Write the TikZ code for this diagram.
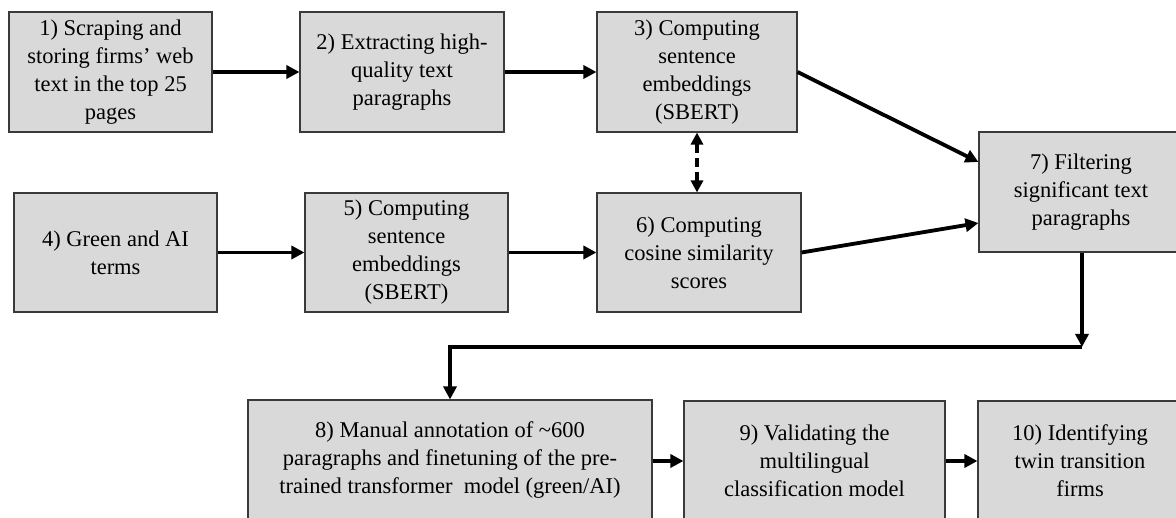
\documentclass[tikz,border=0pt]{standalone}
\usepackage{fontspec}
\setmainfont{Liberation Serif}
\usetikzlibrary{arrows.meta}
\definecolor{boxfill}{HTML}{D9D9D9}
\definecolor{boxline}{HTML}{3A3A3A}
\tikzset{
  stepbox/.style={draw=boxline, line width=1.1pt, fill=boxfill, align=center,
    inner sep=0pt, font=\fontsize{22.5}{28}\selectfont},
  arr/.style={line width=3.8pt, -{Triangle[length=13pt,width=13pt]}},
  darr/.style={line width=3.8pt, dash pattern=on 9pt off 5pt,
    {Triangle[length=12pt,width=12pt]}-{Triangle[length=12pt,width=12pt]}},
}
\begin{document}
\begin{tikzpicture}[x=1pt,y=-1pt]
\useasboundingbox (0,0) rectangle (1176,518);
\clip (0,0) rectangle (1176,518);
\fill[white] (0,0) rectangle (1176,518);
\node[stepbox, minimum width=203pt, minimum height=120pt] (n1) at (110.5,72)
  {1) Scraping and\\storing firms’ web\\text in the top 25\\pages};
\node[stepbox, minimum width=204pt, minimum height=120pt] (n2) at (402,72)
  {2) Extracting high-\\quality text\\paragraphs};
\node[stepbox, minimum width=200pt, minimum height=120pt] (n3) at (697,72)
  {3) Computing\\sentence\\embeddings\\(SBERT)};
\node[stepbox, minimum width=203pt, minimum height=119pt] (n4) at (115.5,252.5)
  {4) Green and AI\\terms};
\node[stepbox, minimum width=203pt, minimum height=119pt] (n5) at (406.5,252.5)
  {5) Computing\\sentence\\embeddings\\(SBERT)};
\node[stepbox, minimum width=204pt, minimum height=119pt] (n6) at (699,252.5)
  {6) Computing\\cosine similarity\\scores};
\node[stepbox, minimum width=204pt, minimum height=120pt] (n7) at (1081,192)
  {7) Filtering\\significant text\\paragraphs};
\node[stepbox, minimum width=404pt, minimum height=120pt] (n8) at (450,460)
  {8) Manual annotation of \textasciitilde600\\paragraphs and finetuning of the pre-\\trained transformer\ \ model (green/AI)};
\node[stepbox, minimum width=261pt, minimum height=120pt] (n9) at (814.5,461)
  {9) Validating the\\multilingual\\classification model};
\node[stepbox, minimum width=204pt, minimum height=120pt] (n10) at (1080,461)
  {10) Identifying\\twin transition\\firms};
\coordinate (j) at (1082,347);
\draw[arr] (n1.east) -- (n2.west);
\draw[arr] (n2.east) -- (n3.west);
\draw[arr] (n4.east) -- (n5.west);
\draw[arr] (n5.east) -- (n6.west);
\draw[darr] (n3.south) -- (n3.south |- n6.north);
\draw[arr] (n3.east) -- ([yshift=30pt]n7.west);
\draw[arr] (n6.east) -- ([yshift=-31pt]n7.west);
\draw[arr] (n7.south -| j) -- (j);
\draw[arr] (j) -| (n8.north);
\draw[arr] (n8.east |- n9.east) -- (n9.west);
\draw[arr] (n9.east) -- (n10.west);
\end{tikzpicture}
\end{document}
